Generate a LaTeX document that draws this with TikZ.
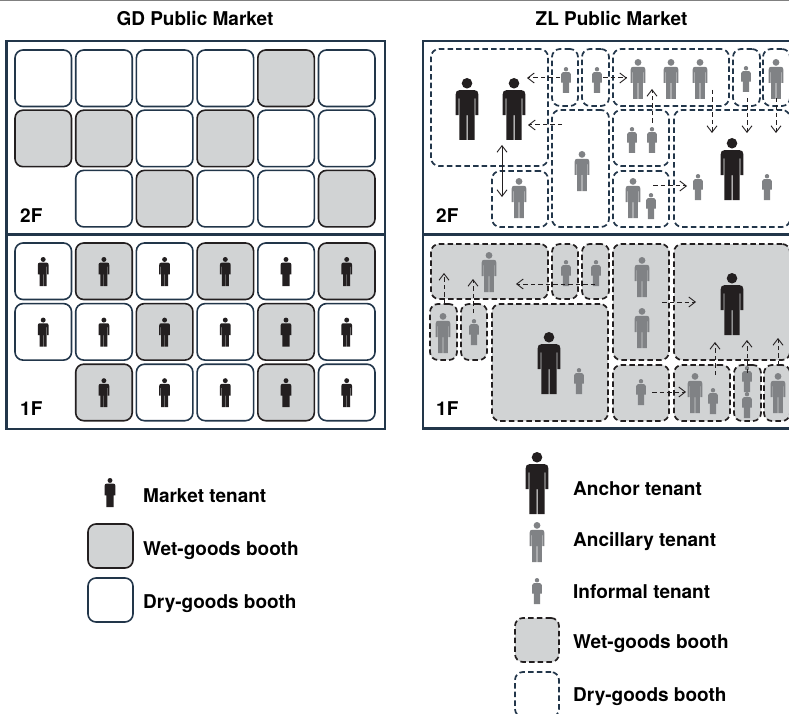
\documentclass[tikz,border=0pt]{standalone}
\usepackage{fontspec}
\setmainfont{TeX Gyre Heros}
\usetikzlibrary{arrows.meta}
\definecolor{navy}{HTML}{22364A}
\definecolor{inkb}{HTML}{231F20}
\definecolor{midg}{HTML}{808285}
\definecolor{boothg}{HTML}{D1D3D4}
\tikzset{
  x=1pt,y=-1pt,
  frame/.style={draw=navy,line width=2.6pt},
  bsolid/.style={rounded corners=8pt,line width=1.6pt,inner sep=0pt,outer sep=0pt},
  dry/.style={bsolid,draw=navy,fill=white},
  wet/.style={bsolid,draw=inkb,fill=boothg},
  ddry/.style={bsolid,line width=1.7pt,draw=navy,fill=white,dash pattern=on 5.5pt off 3.2pt},
  dwet/.style={bsolid,line width=1.7pt,draw=inkb,fill=boothg,dash pattern=on 5.5pt off 3.2pt},
  lab/.style={font=\fontsize{19}{20}\selectfont\bfseries,text=black,inner sep=0pt},
  lableft/.style={lab,anchor=base west},
  flow/.style={draw=inkb,line width=1pt,dash pattern=on 4.5pt off 3pt,-{Straight Barb[length=6.5pt,width=10pt,line width=.9pt]}},
  link/.style={draw=inkb,line width=1pt,{Straight Barb[length=6.5pt,width=10pt,line width=.9pt]}-{Straight Barb[length=6.5pt,width=10pt,line width=.9pt]}}
}
\newcommand{\booth}[6]{%
  \pgfmathsetmacro{\bcx}{(#3+#5)/2}\pgfmathsetmacro{\bcy}{(#4+#6)/2}%
  \pgfmathsetmacro{\bw}{#5-#3}\pgfmathsetmacro{\bh}{#6-#4}%
  \node[#2,minimum width=\bw pt,minimum height=\bh pt] (#1) at (\bcx,\bcy) {};}
% centre x, top y, height, colour
\newcommand{\person}[4]{%
  \begin{scope}[shift={(#1,#2)},x=#3pt,y=-#3pt]
    \fill[#4] (0,.085) circle[radius=.085];
    \fill[#4] (-.008,1) -- (-.008,.6) -- (.008,.6) -- (.008,1) -- (.122,1)
      -- (.122,.33) -- (.134,.33) -- (.134,.6) -- (.185,.6) -- (.185,.27)
      .. controls (.185,.22) and (.16,.195) .. (.12,.195) -- (-.12,.195)
      .. controls (-.16,.195) and (-.185,.22) .. (-.185,.27)
      -- (-.185,.6) -- (-.134,.6) -- (-.134,.33) -- (-.122,.33) -- (-.122,1) -- cycle;
  \end{scope}}
\newcommand{\anchorp}[2]{\person{#1}{#2}{62}{inkb}}
\newcommand{\ancil}[2]{\person{#1}{#2}{40}{midg}}
\newcommand{\inform}[2]{\person{#1}{#2}{26}{midg}}
\newcommand{\market}[2]{\person{#1}{#2}{29}{inkb}}
\newcommand{\flowarrow}[5]{%
  \coordinate (#1s) at (#2,#3); \coordinate (#1e) at (#4,#5);
  \draw[flow] (#1s) -- (#1e);}
\begin{document}
\begin{tikzpicture}
\clip (0,0) rectangle (789,714);
\useasboundingbox (0,0) rectangle (789,714);
\fill[white] (0,0) rectangle (789,714);
\draw[gray,line width=.8pt] (0,.4) -- (789,.4);

\node[lab,anchor=base] (t1) at (195,25.5) {GD Public Market};
\node[lab,anchor=base] (t2) at (611.5,25.5) {ZL Public Market};

% left panel
\draw[frame] (6.5,41) rectangle (385,429);
\draw[frame] (6.5,234.5) -- (385,234.5);
\foreach \c/\r/\s in {1/1/dry,2/1/dry,3/1/dry,4/1/dry,5/1/wet,6/1/dry,
  1/2/wet,2/2/wet,3/2/dry,4/2/wet,5/2/dry,6/2/dry,
  2/3/dry,3/3/wet,4/3/dry,5/3/dry,6/3/wet}{
  \pgfmathsetmacro{\xa}{15+60.7*(\c-1)}\pgfmathsetmacro{\xb}{\xa+56.5}
  \pgfmathsetmacro{\ya}{50+60.2*(\r-1)}\pgfmathsetmacro{\yb}{\ya+56.5}
  \booth{u\c\r}{\s}{\xa}{\ya}{\xb}{\yb}
}
\foreach \c/\r/\s in {1/1/dry,2/1/wet,3/1/dry,4/1/wet,5/1/dry,6/1/wet,
  1/2/dry,2/2/dry,3/2/wet,4/2/dry,5/2/wet,6/2/dry,
  2/3/wet,3/3/dry,4/3/dry,5/3/wet,6/3/dry}{
  \pgfmathsetmacro{\xa}{15+60.7*(\c-1)}\pgfmathsetmacro{\xb}{\xa+56.5}
  \pgfmathsetmacro{\ya}{243+60.6*(\r-1)}\pgfmathsetmacro{\yb}{\ya+56.5}
  \booth{l\c\r}{\s}{\xa}{\ya}{\xb}{\yb}
  \pgfmathsetmacro{\mx}{\xa+28.2}\pgfmathsetmacro{\my}{\ya+14}
  \market{\mx}{\my}
}
\node[lableft] (f2a) at (20,222) {2F};
\node[lableft] (f1a) at (20,415) {1F};

% right panel
\draw[frame] (423,41) rectangle (810,428.5);
\draw[frame] (423,234.5) -- (810,234.5);

% 2F booths
\booth{A}{ddry}{431}{49}{548}{166}
\booth{B}{ddry}{552}{49}{578}{106}
\booth{C}{ddry}{582}{49}{609}{106}
\booth{D}{ddry}{613}{49}{729}{106}
\booth{E}{ddry}{733}{49}{760}{106}
\booth{F}{ddry}{763}{49}{790}{106}
\booth{G}{ddry}{552}{110}{609}{227}
\booth{H}{ddry}{613}{110}{669}{166}
\booth{I}{ddry}{613}{171}{669}{227}
\booth{J}{ddry}{674}{110}{790}{227}
\booth{K}{ddry}{492}{171}{548}{227}
% 2F people
\anchorp{467}{78}\anchorp{514}{78}\anchorp{732}{138}
\ancil{638}{59}\ancil{671}{59}\ancil{700}{59}\ancil{776}{59}
\ancil{582}{151}\ancil{519}{178}\ancil{633}{178}
\inform{566}{67}\inform{597}{67}\inform{746}{66}
\inform{632}{127}\inform{652}{127}\inform{651}{193}
\inform{698}{174}\inform{767}{174}
% 2F arrows
\flowarrow{a}{560}{78}{527}{78}
\flowarrow{b}{603}{78}{627}{78}
\flowarrow{c}{652}{123}{652}{89}
\flowarrow{d}{562}{125}{528}{125}
\coordinate (es) at (502,145); \coordinate (ee) at (502,197);
\draw[link] (es) -- (ee);
\flowarrow{f}{653}{186}{687}{186}
\flowarrow{g}{712}{90}{712}{133}
\flowarrow{h}{747}{98}{747}{133}
\flowarrow{i}{776}{98}{776}{133}
\node[lableft] (f2b) at (436,222) {2F};

% 1F booths
\booth{a}{dwet}{431}{244}{548}{299}
\booth{b}{dwet}{552}{244}{578}{299}
\booth{c}{dwet}{582}{244}{609}{299}
\booth{d}{dwet}{613}{244}{669}{360}
\booth{e}{dwet}{674}{244}{790}{360}
\booth{f}{dwet}{430}{304}{457}{360}
\booth{g}{dwet}{461}{304}{487}{360}
\booth{h}{dwet}{492}{304}{608}{421}
\booth{i}{dwet}{613}{365}{669}{421}
\booth{j}{dwet}{674}{365}{730}{421}
\booth{k}{dwet}{734}{365}{761}{421}
\booth{l}{dwet}{764}{365}{790}{421}
% 1F people
\anchorp{732}{273}\anchorp{549}{332}
\ancil{489}{252}\ancil{642}{257}\ancil{642}{308}\ancil{443}{313}
\ancil{695}{373}\ancil{778}{373}
\inform{566}{260}\inform{596}{260}\inform{474}{319}\inform{579}{368}
\inform{641}{379}\inform{713}{388}\inform{747}{366}\inform{747}{392}
% 1F arrows
\flowarrow{m}{444}{304}{444}{273}
\flowarrow{n}{473}{313}{473}{279}
\flowarrow{o}{595}{284}{516}{284}
\flowarrow{p}{662}{302}{696}{302}
\flowarrow{q}{652}{392}{686}{392}
\flowarrow{r}{715}{375}{715}{342}
\flowarrow{s}{747}{373}{747}{340}
\flowarrow{t}{778}{365}{778}{338}
\node[lableft] (f1b) at (436,415) {1F};

% left legend
\market{110}{478}
\node[lableft] (k1) at (143,502) {Market tenant};
\booth{kw}{wet}{88}{524}{133}{568}
\node[lableft] (k2) at (143,555) {Wet-goods booth};
\booth{kd}{dry}{88}{578}{133}{622}
\node[lableft] (k3) at (143,608) {Dry-goods booth};

% right legend
\anchorp{537}{452}
\node[lableft] (r1) at (573,495) {Anchor tenant};
\ancil{537}{522}
\node[lableft] (r2) at (573,546) {Ancillary tenant};
\inform{537}{578}
\node[lableft] (r3) at (573,598) {Informal tenant};
\booth{rw}{dwet}{515}{618}{559}{662}
\node[lableft] (r4) at (573,648) {Wet-goods booth};
\booth{rd}{ddry}{515}{672}{559}{717}
\node[lableft] (r5) at (573,701) {Dry-goods booth};
\end{tikzpicture}
\end{document}
